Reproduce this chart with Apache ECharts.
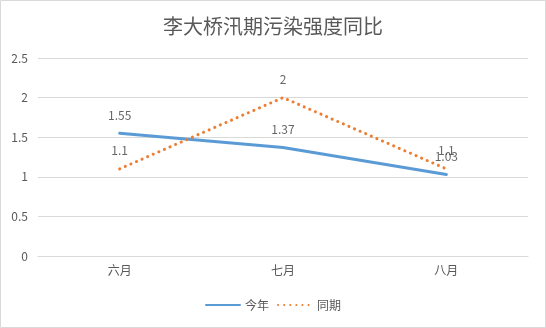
<!DOCTYPE html>
<html><head><meta charset="utf-8">
<script src="https://cdn.jsdelivr.net/npm/echarts@6/dist/echarts.min.js"></script>
<style>html,body{margin:0;padding:0;background:#fff}#c{width:546px;height:328px}</style>
</head><body><div id="c"></div>
<script>
const categories = ['六月', '七月', '八月'];
const thisYear = [1.55, 1.37, 1.03];
const lastYear = [1.1, 2, 1.1];
const yTicks = [0, 0.5, 1, 1.5, 2, 2.5];
const seriesNames = ['今年', '同期'];

const chart = echarts.init(document.getElementById('c'), null, {renderer: 'canvas'});
const txt = '#595959';
const font = '"Noto Sans CJK SC", "Noto Sans", sans-serif';
const lbl = {show: true, position: 'top', distance: 12, color: '#404040', fontSize: 12};
chart.setOption({
  backgroundColor: '#fff',
  animation: false,
  textStyle: {fontFamily: font},
  graphic: [{type: 'rect', shape: {x: 0.5, y: 0.5, width: 545, height: 327}, style: {fill: 'none', stroke: '#d9d9d9', lineWidth: 1}, silent: true}],
  title: {text: '李大桥汛期污染强度同比', left: 'center', top: 11,
    textStyle: {fontSize: 20, fontWeight: 'normal', color: txt, fontFamily: font}},
  grid: {left: 38, right: 18, top: 58, bottom: 72},
  legend: {bottom: 12, left: 'center', itemWidth: 34, itemHeight: 10, itemGap: 8,
    itemStyle: {opacity: 0},
    textStyle: {color: txt, fontSize: 12}, data: seriesNames},
  xAxis: {type: 'category', data: categories, boundaryGap: true,
    axisLine: {lineStyle: {color: '#d9d9d9', width: 1}}, axisTick: {show: false},
    axisLabel: {color: txt, fontSize: 12, margin: 8}},
  yAxis: {type: 'value', min: yTicks[0], max: yTicks[yTicks.length - 1], interval: 0.5,
    axisLine: {show: false}, axisTick: {show: false},
    splitLine: {lineStyle: {color: '#d9d9d9', width: 1}},
    axisLabel: {color: txt, fontSize: 12, margin: 10}},
  series: [
    {name: seriesNames[0], type: 'line', data: thisYear, showSymbol: false, symbol: 'none',
      lineStyle: {color: '#5b9bd5', width: 3, cap: 'round'}, itemStyle: {color: '#5b9bd5'}},
    {name: seriesNames[1], type: 'line', data: lastYear, showSymbol: false, symbol: 'none',
      lineStyle: {color: '#ed7d31', width: 3, type: [0.1, 6], cap: 'round'}, itemStyle: {color: '#ed7d31'}},
    {name: 'lbl1', type: 'scatter', data: thisYear, symbolSize: 0, silent: true, label: lbl, z: 5},
    {name: 'lbl2', type: 'scatter', data: lastYear, symbolSize: 0, silent: true, label: lbl, z: 5}
  ]
});
</script></body></html>
